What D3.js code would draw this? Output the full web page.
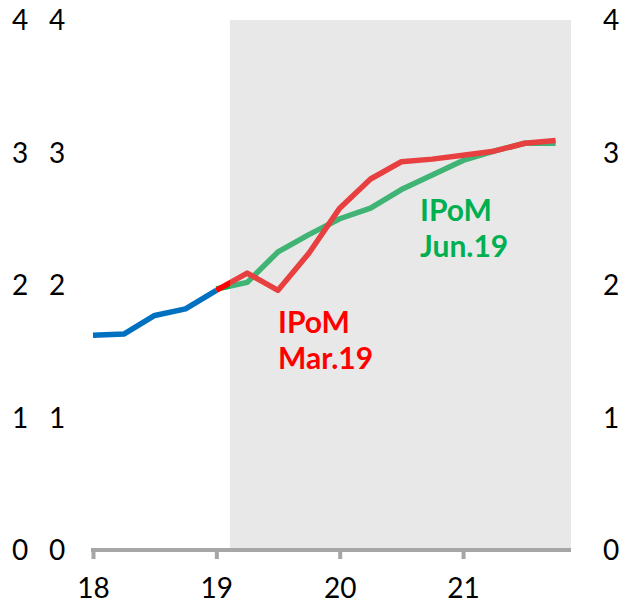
<!DOCTYPE html>
<html>
  <head>
    <title>IPoM</title>
    <meta charset="UTF-8" />
    <style>
      body { margin: 0; background: #fff; }
      text { font-family: Lato, "Open Sans", sans-serif; }
    </style>
  </head>
  <body>
    <script src="https://cdn.jsdelivr.net/npm/d3@7"></script>
    <script>
      // history (blue) and the two projections, quarterly
      var histDates = [18, 18.25, 18.5, 18.75, 19];
      var histValues = [1.62, 1.63, 1.77, 1.82, 1.96];

      var projDates = [19, 19.25, 19.5, 19.75, 20, 20.25, 20.5, 20.75, 21, 21.25, 21.5, 21.75];
      var marValues = [1.96, 2.09, 1.96, 2.24, 2.58, 2.80, 2.93, 2.95, 2.98, 3.01, 3.07, 3.09];
      var junValues = [1.97, 2.02, 2.25, 2.38, 2.50, 2.58, 2.72, 2.83, 2.94, 3.01, 3.07, 3.07];

      var yTicks = [0, 1, 2, 3, 4];
      var xTicks = [18, 19, 20, 21];
      var xTickLabels = ["18", "19", "20", "21"];
      var shadeFrom = 19.11;

      var width = 623, height = 606;

      var svg = d3.select("body")
                .append("svg")
                .attr("width", width)
                .attr("height", height);

      var x = d3.scaleLinear().domain([18, 21.875]).range([93, 571]);
      var y = d3.scaleLinear().domain([0, 4]).range([550, 20]);

      function series(dates, vals) {
        return dates.map(function(d, i) { return { x: d, v: vals[i] }; });
      }

      var line = d3.line()
                .x(function(d) { return x(d.x); })
                .y(function(d) { return y(d.v); });

      var lines = [
        { data: series(histDates, histValues), c: "#0070c0" },
        { data: series(projDates, junValues), c: "#00b050" },
        { data: series(projDates, marValues), c: "#ff0000" }
      ];

      svg.append("g").selectAll("path")
        .data(lines)
        .enter()
        .append("path")
        .attr("d", function(d) { return line(d.data); })
        .attr("fill", "none")
        .attr("stroke", function(d) { return d.c; })
        .attr("stroke-width", 5.5)
        .attr("stroke-linejoin", "round");

      // projection shading is laid over the lines, semi transparent
      svg.append("rect")
        .attr("x", x(shadeFrom))
        .attr("y", y(4))
        .attr("width", x(21.875) - x(shadeFrom))
        .attr("height", y(0) - y(4))
        .attr("fill", "rgb(188,188,188)")
        .attr("fill-opacity", 0.34);

      // x axis
      var xAxis = d3.axisBottom(x)
                .tickValues(xTicks)
                .tickFormat(function(d, i) { return xTickLabels[i]; })
                .tickSizeInner(9)
                .tickSizeOuter(0)
                .tickPadding(19);

      var gx = svg.append("g")
                .attr("transform", "translate(0," + y(0) + ")")
                .call(xAxis);
      gx.select(".domain")
        .attr("d", "M" + (x(18) - 2) + ",0H" + x(21.875))
        .attr("stroke", "#a6a6a6")
        .attr("stroke-width", 4);
      gx.selectAll(".tick line")
        .attr("stroke", "#a6a6a6")
        .attr("stroke-width", 4);
      gx.selectAll(".tick text")
        .attr("fill", "#000")
        .style("font-size", "28px")
        .style("font-family", "Lato, sans-serif");

      // y labels: two columns on the left, one on the right
      [20, 57, 611].forEach(function(cx) {
        svg.append("g").selectAll("text")
          .data(yTicks)
          .enter()
          .append("text")
          .attr("x", cx)
          .attr("y", function(d) { return y(d); })
          .attr("dy", "0.36em")
          .attr("text-anchor", "middle")
          .style("font-size", "28px")
          .text(function(d) { return d; });
      });

      // series labels
      var notes = [
        { lines: ["IPoM", "Mar.19"], x: 278, y: 333, c: "#ff0000" },
        { lines: ["IPoM", "Jun.19"], x: 420, y: 221, c: "#00b050" }
      ];

      notes.forEach(function(n) {
        n.lines.forEach(function(t, i) {
          svg.append("text")
            .attr("x", n.x)
            .attr("y", n.y + i * 36)
            .attr("fill", n.c)
            .style("font-size", "30px")
            .style("font-weight", "bold")
            .text(t);
        });
      });
    </script>
  </body>
</html>
